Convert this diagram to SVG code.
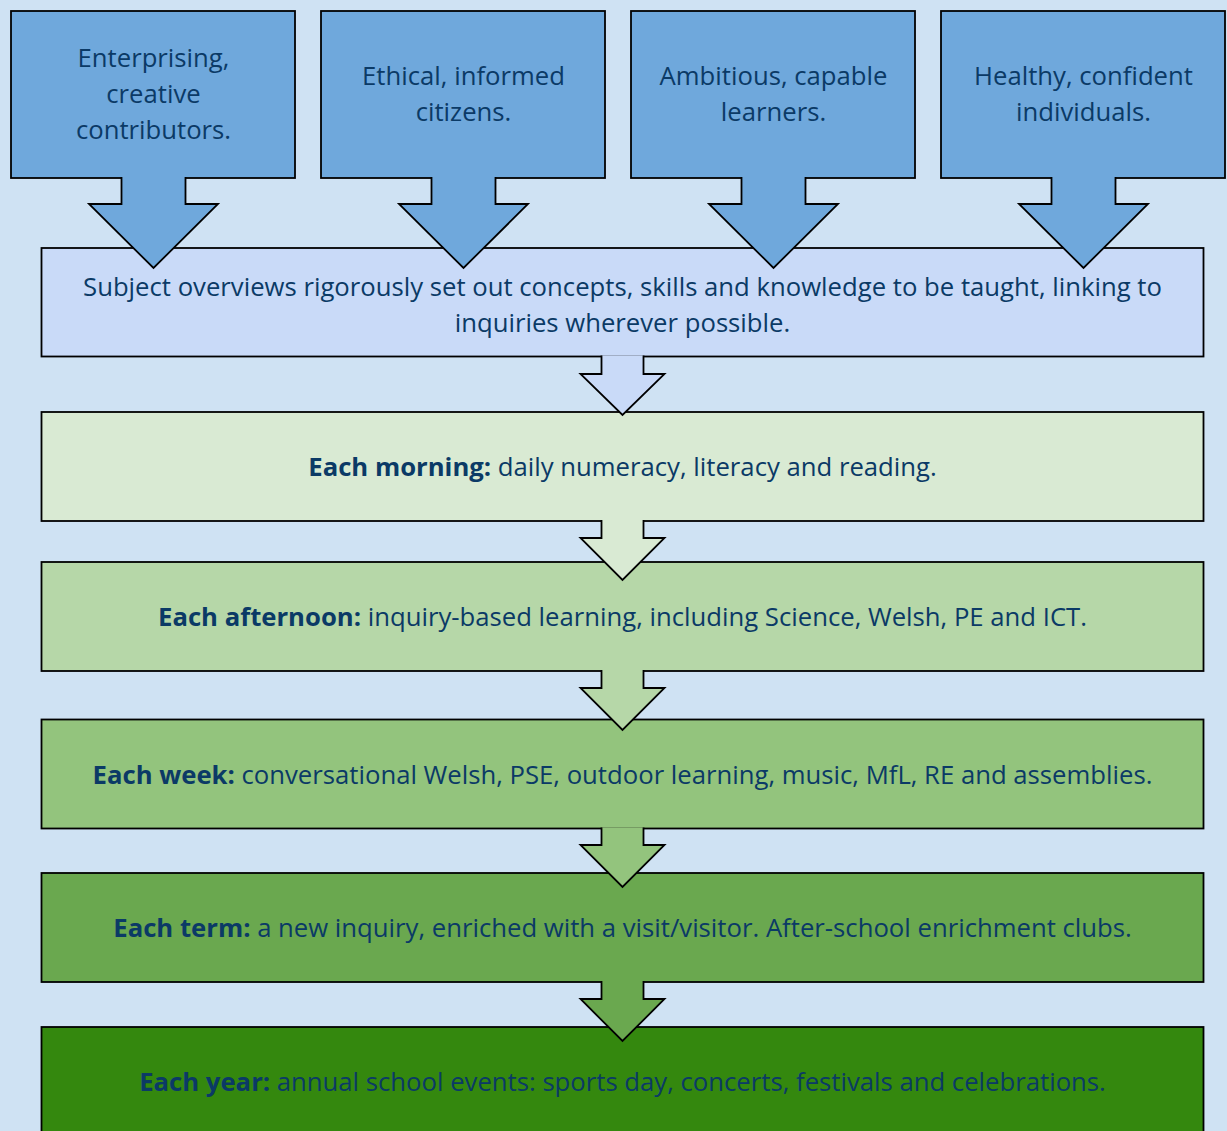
<svg xmlns="http://www.w3.org/2000/svg" width="1227" height="1131" viewBox="0 0 1227 1131">
<style>
.b{stroke:#000;stroke-width:1.8;stroke-linejoin:miter}
.t{font-family:"Open Sans",Lato,sans-serif;font-size:25.7px;fill:#0b3a66;text-anchor:middle}
.k{font-weight:700}
</style>
<rect x="0" y="0" width="1227" height="1131" fill="#cfe2f3"/>
<g id="year"><rect class="b" x="41.5" y="1027" width="1162" height="120" fill="#34880e"/>
<text class="t" x="622.5" y="1091"><tspan class="k">Each year:</tspan> annual school events: sports day, concerts, festivals and celebrations.</text></g>
<g id="term"><rect class="b" x="41.5" y="873" width="1162" height="109" fill="#6aa84f"/>
<text class="t" x="622.5" y="937"><tspan class="k">Each term:</tspan> a new inquiry, enriched with a visit/visitor. After-school enrichment clubs.</text></g>
<g id="week"><rect class="b" x="41.5" y="719.5" width="1162" height="109" fill="#93c47d"/>
<text class="t" x="622.5" y="784"><tspan class="k">Each week:</tspan> conversational Welsh, PSE, outdoor learning, music, MfL, RE and assemblies.</text></g>
<g id="afternoon"><rect class="b" x="41.5" y="562" width="1162" height="109" fill="#b6d7a8"/>
<text class="t" x="622.5" y="626"><tspan class="k">Each afternoon:</tspan> inquiry-based learning, including Science, Welsh, PE and ICT.</text></g>
<g id="morning"><rect class="b" x="41.5" y="412" width="1162" height="109" fill="#d9ead3"/>
<text class="t" x="622.5" y="476"><tspan class="k">Each morning:</tspan> daily numeracy, literacy and reading.</text></g>
<g id="subjects"><rect class="b" x="41.5" y="248" width="1162" height="108.5" fill="#c9daf8"/>
<text class="t" x="622.5" y="296">Subject overviews rigorously set out concepts, skills and knowledge to be taught, linking to</text>
<text class="t" x="622.5" y="332">inquiries wherever possible.</text></g>
<g id="enterprising"><rect class="b" x="11" y="11" width="284" height="167" fill="#6fa8dc"/>
<text class="t" x="153.5" y="67">Enterprising,</text><text class="t" x="153.5" y="103">creative</text><text class="t" x="153.5" y="139">contributors.</text></g>
<g id="ethical"><rect class="b" x="321" y="11" width="284" height="167" fill="#6fa8dc"/>
<text class="t" x="463.5" y="85">Ethical, informed</text><text class="t" x="463.5" y="121">citizens.</text></g>
<g id="ambitious"><rect class="b" x="631" y="11" width="284" height="167" fill="#6fa8dc"/>
<text class="t" x="773.5" y="85">Ambitious, capable</text><text class="t" x="773.5" y="121">learners.</text></g>
<g id="healthy"><rect class="b" x="941" y="11" width="284" height="167" fill="#6fa8dc"/>
<text class="t" x="1083.5" y="85">Healthy, confident</text><text class="t" x="1083.5" y="121">individuals.</text></g>
<g id="connectors" class="b">
<path fill="#6fa8dc" d="M121.5,177 V204 H89 L153.5,268 L218,204 H185.5 V177"/>
<path fill="#6fa8dc" d="M431.5,177 V204 H399 L463.5,268 L528,204 H495.5 V177"/>
<path fill="#6fa8dc" d="M741.5,177 V204 H709 L773.5,268 L838,204 H805.5 V177"/>
<path fill="#6fa8dc" d="M1051.5,177 V204 H1019 L1083.5,268 L1148,204 H1115.5 V177"/>
<path fill="#c9daf8" d="M601.5,355.4 V374 H580.5 L622.5,415 L664.5,374 H643.5 V355.4"/>
<path fill="#d9ead3" d="M601.5,519.9 V538 H580.5 L622.5,580 L664.5,538 H643.5 V519.9"/>
<path fill="#b6d7a8" d="M601.5,669.9 V688 H580.5 L622.5,730 L664.5,688 H643.5 V669.9"/>
<path fill="#93c47d" d="M601.5,827.4 V845 H580.5 L622.5,887 L664.5,845 H643.5 V827.4"/>
<path fill="#6aa84f" d="M601.5,980.9 V999 H580.5 L622.5,1041 L664.5,999 H643.5 V980.9"/>
</g>
</svg>
